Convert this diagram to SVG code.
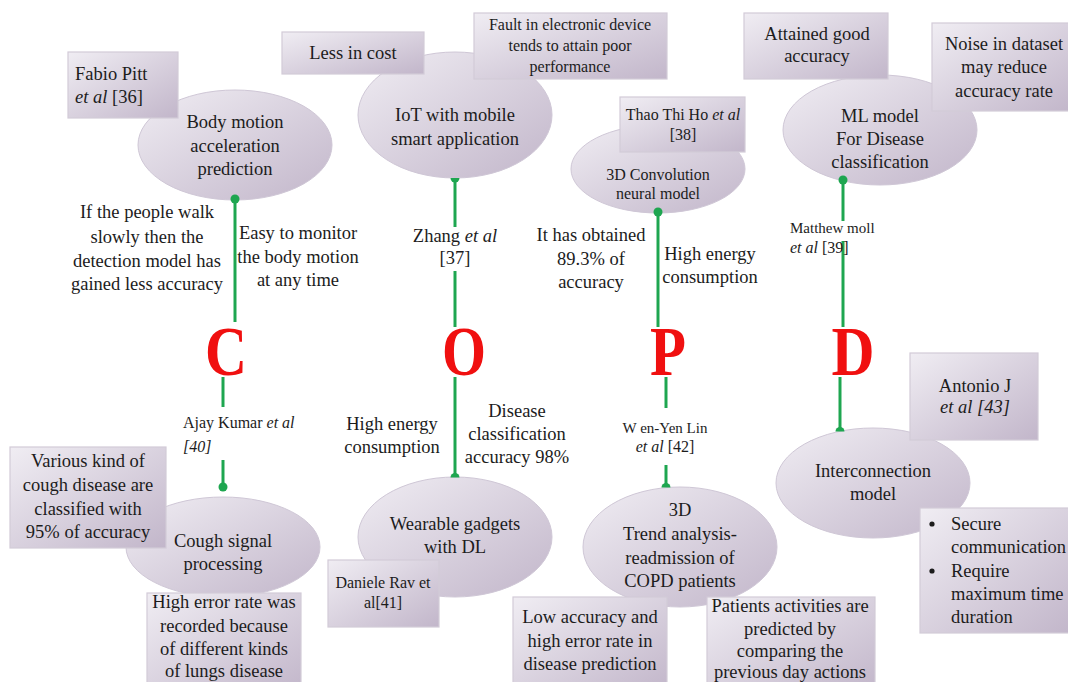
<svg xmlns="http://www.w3.org/2000/svg" width="1068" height="682" viewBox="0 0 1068 682">
  <defs>
    <linearGradient id="fillShade" x1="0" y1="0" x2="1" y2="1">
      <stop offset="0" stop-color="#f0edf3"/>
      <stop offset="1" stop-color="#c2b6ca"/>
    </linearGradient>
    <style>
      .oval { fill: url(#fillShade); stroke: #cfc7d6; stroke-width: 1; }
      .box { fill: url(#fillShade); stroke: #d2cbd8; stroke-width: 1.2; }
      text { font-family: "Liberation Serif", "Times New Roman", serif; fill: #1c1c1c; }
      .t { font-size: 18.5px; text-anchor: middle; }
      .s { font-size: 16px; text-anchor: middle; }
      .xs { font-size: 15px; }
      .l { text-anchor: start; }
      .it { font-style: italic; }
      .big { font-size: 70px; font-weight: bold; fill: #f01010; text-anchor: middle; }
      .wire { stroke: #1ea650; stroke-width: 3; fill: none; }
      .dot { fill: #1ea650; }
    </style>
  </defs>

  <rect width="1068" height="682" fill="#ffffff"/>

  <!-- method ellipses -->
  <g id="node-body-motion">
    <ellipse class="oval" cx="235" cy="145" rx="97" ry="55"/>
    <text class="t" x="235" y="128">Body motion</text>
    <text class="t" x="235" y="152">acceleration</text>
    <text class="t" x="235" y="175">prediction</text>
  </g>
  <g id="node-iot">
    <ellipse class="oval" cx="455" cy="115" rx="97" ry="63"/>
    <text class="t" x="455" y="121">IoT with mobile</text>
    <text class="t" x="455" y="145">smart application</text>
  </g>
  <g id="node-3d-conv">
    <ellipse class="oval" cx="658" cy="169" rx="87" ry="44"/>
    <text class="s" x="658" y="180">3D Convolution</text>
    <text class="s" x="658" y="199">neural model</text>
  </g>
  <g id="node-ml-model">
    <ellipse class="oval" cx="880" cy="130" rx="97" ry="55"/>
    <text class="t" x="880" y="122">ML model</text>
    <text class="t" x="880" y="145">For Disease</text>
    <text class="t" x="880" y="168">classification</text>
  </g>
  <g id="node-cough">
    <ellipse class="oval" cx="223" cy="547" rx="97" ry="50"/>
    <text class="t" x="223" y="547">Cough signal</text>
    <text class="t" x="223" y="570">processing</text>
  </g>
  <g id="node-wearable">
    <ellipse class="oval" cx="455" cy="537" rx="97" ry="60"/>
    <text class="t" x="455" y="530">Wearable gadgets</text>
    <text class="t" x="455" y="553">with DL</text>
  </g>
  <g id="node-copd-trend">
    <ellipse class="oval" cx="680" cy="547" rx="97" ry="60"/>
    <text class="t" x="680" y="516">3D</text>
    <text class="t" x="680" y="540">Trend analysis-</text>
    <text class="t" x="680" y="564">readmission of</text>
    <text class="t" x="680" y="587">COPD patients</text>
  </g>
  <g id="node-interconnection">
    <ellipse class="oval" cx="873" cy="483" rx="97" ry="55"/>
    <text class="t" x="873" y="477">Interconnection</text>
    <text class="t" x="873" y="500">model</text>
  </g>

  <!-- note boxes -->
  <g id="node-fabio">
    <rect class="box" x="68" y="52" width="110" height="66"/>
    <text class="t l" x="75" y="80">Fabio Pitt</text>
    <text class="t l" x="75" y="103"><tspan class="it">et al</tspan> [36]</text>
  </g>
  <g id="node-less-cost">
    <rect class="box" x="282" y="32" width="142" height="42"/>
    <text class="t" x="353" y="59">Less in cost</text>
  </g>
  <g id="node-fault">
    <rect class="box" x="474" y="13" width="193" height="66"/>
    <text class="s" x="570" y="30">Fault in electronic device</text>
    <text class="s" x="570" y="51">tends to attain poor</text>
    <text class="s" x="570" y="72">performance</text>
  </g>
  <g id="node-thao">
    <rect class="box" x="620" y="97" width="125" height="55"/>
    <text class="s" x="683" y="120">Thao Thi Ho <tspan class="it">et al</tspan></text>
    <text class="s" x="683" y="140">[38]</text>
  </g>
  <g id="node-attained">
    <rect class="box" x="744" y="13" width="144" height="66"/>
    <text class="t" x="817" y="40">Attained good</text>
    <text class="t" x="817" y="62">accuracy</text>
  </g>
  <g id="node-noise">
    <rect class="box" x="932" y="23" width="140" height="88"/>
    <text class="t" x="1004" y="50">Noise in dataset</text>
    <text class="t" x="1004" y="73">may reduce</text>
    <text class="t" x="1004" y="97">accuracy rate</text>
  </g>
  <g id="node-various">
    <rect class="box" x="10" y="447" width="156" height="101"/>
    <text class="t" x="88" y="467">Various kind of</text>
    <text class="t" x="88" y="491">cough disease are</text>
    <text class="t" x="88" y="515">classified with</text>
    <text class="t" x="88" y="538">95% of accuracy</text>
  </g>
  <g id="node-high-error">
    <rect class="box" x="147" y="593" width="154" height="100"/>
    <text class="t" x="224" y="608">High error rate was</text>
    <text class="t" x="224" y="632">recorded because</text>
    <text class="t" x="224" y="655">of different kinds</text>
    <text class="t" x="224" y="677">of lungs disease</text>
  </g>
  <g id="node-daniele">
    <rect class="box" x="328" y="560" width="111" height="67"/>
    <text class="s" x="383" y="588">Daniele Rav et</text>
    <text class="s" x="383" y="608">al[41]</text>
  </g>
  <g id="node-low-accuracy">
    <rect class="box" x="513" y="597" width="154" height="95"/>
    <text class="t" x="590" y="623">Low accuracy and</text>
    <text class="t" x="590" y="647">high error rate in</text>
    <text class="t" x="590" y="670">disease prediction</text>
  </g>
  <g id="node-patients">
    <rect class="box" x="707" y="597" width="168" height="95"/>
    <text class="t" x="790" y="612">Patients activities are</text>
    <text class="t" x="790" y="635">predicted by</text>
    <text class="t" x="790" y="657">comparing the</text>
    <text class="t" x="790" y="678">previous day actions</text>
  </g>
  <g id="node-antonio">
    <rect class="box" x="910" y="353" width="128" height="87"/>
    <text class="t" x="975" y="392">Antonio J</text>
    <text class="t it" x="975" y="413">et al [43]</text>
  </g>
  <g id="node-secure">
    <rect class="box" x="920" y="508" width="152" height="125"/>
    <circle cx="932" cy="524" r="2.6" fill="#1c1c1c"/>
    <circle cx="932" cy="571" r="2.6" fill="#1c1c1c"/>
    <text class="t l" x="951" y="530">Secure</text>
    <text class="t l" x="951" y="553">communication</text>
    <text class="t l" x="951" y="577">Require</text>
    <text class="t l" x="951" y="600">maximum time</text>
    <text class="t l" x="951" y="623">duration</text>
  </g>

  <!-- COPD letters -->
  <g id="node-letter-c"><text class="big" x="226" y="375" textLength="42" lengthAdjust="spacingAndGlyphs">C</text></g>
  <g id="node-letter-o"><text class="big" x="464" y="375" textLength="44" lengthAdjust="spacingAndGlyphs">O</text></g>
  <g id="node-letter-p"><text class="big" x="668" y="375" textLength="36" lengthAdjust="spacingAndGlyphs">P</text></g>
  <g id="node-letter-d"><text class="big" x="853" y="375" textLength="43" lengthAdjust="spacingAndGlyphs">D</text></g>

  <!-- green connectors with their labels -->
  <g id="connectors">
    <!-- C -->
    <line class="wire" x1="235" y1="199" x2="235" y2="322"/>
    <circle class="dot" cx="235" cy="199" r="4.5"/>
    <line class="wire" x1="223" y1="377" x2="223" y2="407"/>
    <line class="wire" x1="223" y1="460" x2="223" y2="487"/>
    <circle class="dot" cx="223" cy="487" r="4.5"/>
    <!-- O -->
    <line class="wire" x1="455" y1="178" x2="455" y2="227"/>
    <path class="dot" d="M450.5 178 A4.5 4.5 0 0 0 459.5 178 Z"/>
    <line class="wire" x1="455" y1="271" x2="455" y2="327"/>
    <line class="wire" x1="455" y1="377" x2="455" y2="477"/>
    <path class="dot" d="M450.5 477.5 A4.5 4.5 0 0 1 459.5 477.5 Z"/>
    <!-- P -->
    <line class="wire" x1="658" y1="212" x2="658" y2="327"/>
    <circle class="dot" cx="658" cy="212" r="4.5"/>
    <line class="wire" x1="666" y1="377" x2="666" y2="408"/>
    <line class="wire" x1="666" y1="465" x2="666" y2="487"/>
    <path class="dot" d="M661.5 487.5 A4.5 4.5 0 0 1 670.5 487.5 Z"/>
    <!-- D -->
    <line class="wire" x1="843" y1="180" x2="843" y2="221"/>
    <circle class="dot" cx="843" cy="180" r="4.5"/>
    <line class="wire" x1="843" y1="241" x2="843" y2="327"/>
    <line class="wire" x1="840" y1="377" x2="840" y2="431"/>
    <path class="dot" d="M835.5 431.5 A4.5 4.5 0 0 1 844.5 431.5 Z"/>

    <!-- labels beside the connectors -->
    <text class="t" x="147" y="218">If the people walk</text>
    <text class="t" x="147" y="243">slowly then the</text>
    <text class="t" x="147" y="267">detection model has</text>
    <text class="t" x="147" y="290">gained less accuracy</text>
    <text class="t" x="298" y="239">Easy to monitor</text>
    <text class="t" x="298" y="263">the body motion</text>
    <text class="t" x="298" y="286">at any time</text>
    <text class="s l" x="183" y="428">Ajay Kumar <tspan class="it">et al</tspan></text>
    <text class="s l it" x="183" y="452">[40]</text>

    <text class="t" x="455" y="242">Zhang <tspan class="it">et al</tspan></text>
    <text class="t" x="455" y="264">[37]</text>
    <text class="t" x="392" y="430">High energy</text>
    <text class="t" x="392" y="453">consumption</text>
    <text class="t" x="517" y="417">Disease</text>
    <text class="t" x="517" y="440">classification</text>
    <text class="t" x="517" y="463">accuracy 98%</text>

    <text class="t" x="591" y="241">It has obtained</text>
    <text class="t" x="591" y="265">89.3% of</text>
    <text class="t" x="591" y="288">accuracy</text>
    <text class="t" x="710" y="260">High energy</text>
    <text class="t" x="710" y="283">consumption</text>
    <text class="xs" x="665" y="433" text-anchor="middle">W en-Yen Lin</text>
    <text class="s" x="665" y="452"><tspan class="it">et al</tspan> [42]</text>

    <text class="xs l" x="790" y="233">Matthew moll</text>
    <text class="s l" x="790" y="253"><tspan class="it">et al</tspan> [39]</text>
  </g>
</svg>
